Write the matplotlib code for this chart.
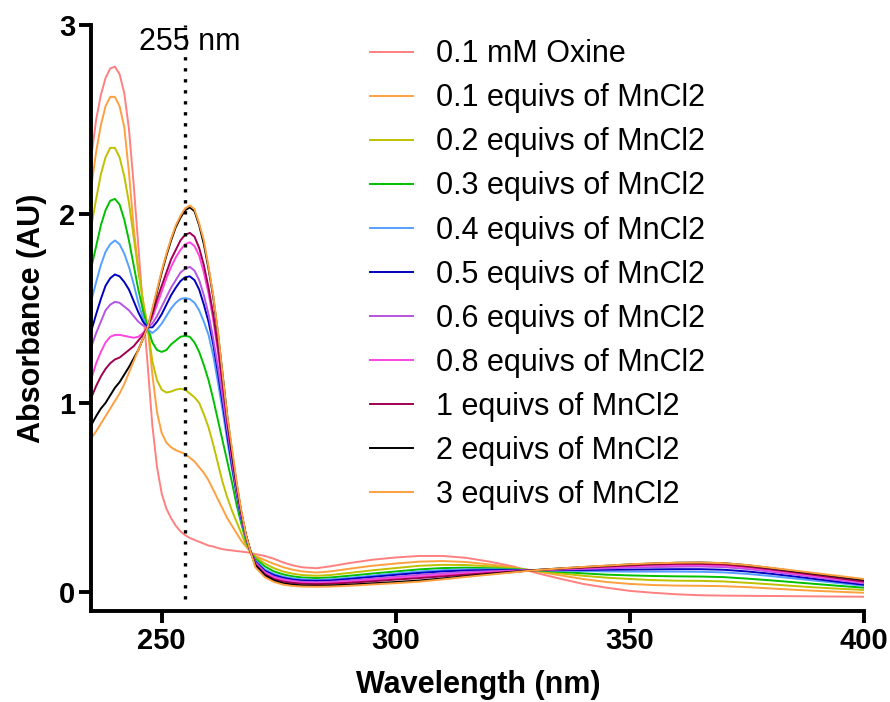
import matplotlib

matplotlib.use("Agg")
import matplotlib.pyplot as plt

plt.rcParams["font.family"] = ["Liberation Sans", "DejaVu Sans"]

# wavelength grid (nm): 1 nm steps through the band region, coarser in the tail
WL = list(range(235, 270)) + [270, 272, 274, 276, 278, 280, 283, 286, 290, 295, 300, 305, 310,
                              315, 320, 325, 330, 335, 340, 345, 350, 355, 360, 365, 370, 375,
                              380, 385, 390, 395, 400]

LABELS = ["0.1 mM Oxine", "0.1 equivs of MnCl2", "0.2 equivs of MnCl2", "0.3 equivs of MnCl2",
          "0.4 equivs of MnCl2", "0.5 equivs of MnCl2", "0.6 equivs of MnCl2",
          "0.8 equivs of MnCl2", "1 equivs of MnCl2", "2 equivs of MnCl2", "3 equivs of MnCl2"]
COLORS = ["#FF8080", "#FFA040", "#C0C000", "#00C000", "#55A0FF", "#0000C0", "#B555E0",
          "#FF45E0", "#A00050", "#000000", "#FFA040"]

# absorbance (AU), one list per titration point
oxine = [2.31, 2.50, 2.63, 2.72, 2.77, 2.78, 2.74, 2.64, 2.45, 2.16, 1.83, 1.50, 1.20, 0.88, 0.66,
         0.52, 0.44, 0.39, 0.35, 0.32, 0.30, 0.285, 0.275, 0.265, 0.255, 0.245, 0.24, 0.232, 0.226,
         0.222, 0.219, 0.216, 0.213, 0.21, 0.206,
         0.200, 0.190, 0.175, 0.155, 0.140, 0.130, 0.125, 0.135, 0.152, 0.170, 0.182, 0.190, 0.190,
         0.180, 0.160, 0.135, 0.100, 0.070, 0.042, 0.022, 0.005, -0.005, -0.013, -0.018, -0.020,
         -0.021, -0.022, -0.023, -0.024, -0.025, -0.026]
mn_01 = [2.15, 2.33, 2.47, 2.57, 2.62, 2.62, 2.57, 2.46, 2.22, 1.93, 1.71, 1.54, 1.40, 1.15, 0.95,
         0.84, 0.79, 0.765, 0.75, 0.74, 0.73, 0.71, 0.69, 0.66, 0.63, 0.59, 0.54, 0.49, 0.44, 0.39,
         0.35, 0.31, 0.27, 0.24, 0.21,
         0.19, 0.168, 0.148, 0.13, 0.117, 0.108, 0.102, 0.108, 0.122, 0.138, 0.150, 0.160, 0.163,
         0.158, 0.145, 0.130, 0.108, 0.088, 0.068, 0.052, 0.042, 0.036, 0.033, 0.032, 0.030, 0.025,
         0.018, 0.011, 0.005, 0.000, -0.005]
mn_02 = [1.94, 2.08, 2.21, 2.30, 2.35, 2.35, 2.30, 2.20, 2.06, 1.88, 1.70, 1.54, 1.40, 1.22, 1.12,
         1.07, 1.055, 1.06, 1.07, 1.075, 1.07, 1.05, 1.03, 1.00, 0.94, 0.87, 0.78, 0.68, 0.58, 0.50,
         0.43, 0.37, 0.31, 0.25, 0.21,
         0.185, 0.150, 0.125, 0.107, 0.096, 0.089, 0.085, 0.089, 0.100, 0.114, 0.126, 0.138, 0.143,
         0.142, 0.135, 0.125, 0.112, 0.098, 0.085, 0.075, 0.068, 0.062, 0.059, 0.058, 0.055, 0.048,
         0.040, 0.031, 0.023, 0.016, 0.010]
mn_03 = [1.72, 1.83, 1.94, 2.02, 2.07, 2.08, 2.05, 1.97, 1.86, 1.73, 1.60, 1.49, 1.40, 1.32, 1.28,
         1.27, 1.28, 1.31, 1.33, 1.35, 1.355, 1.35, 1.32, 1.27, 1.20, 1.12, 1.02, 0.91, 0.80, 0.69,
         0.58, 0.46, 0.36, 0.27, 0.21,
         0.175, 0.135, 0.108, 0.092, 0.082, 0.076, 0.073, 0.076, 0.085, 0.097, 0.108, 0.119, 0.126,
         0.128, 0.125, 0.120, 0.114, 0.106, 0.098, 0.091, 0.087, 0.084, 0.082, 0.081, 0.078, 0.070,
         0.061, 0.051, 0.041, 0.031, 0.022]
mn_04 = [1.545, 1.64, 1.73, 1.80, 1.84, 1.86, 1.84, 1.79, 1.72, 1.63, 1.53, 1.45, 1.39, 1.37, 1.39,
         1.42, 1.46, 1.50, 1.53, 1.55, 1.555, 1.55, 1.53, 1.49, 1.43, 1.36, 1.25, 1.11, 0.96, 0.80,
         0.65, 0.51, 0.38, 0.28, 0.21,
         0.165, 0.120, 0.095, 0.080, 0.071, 0.066, 0.063, 0.066, 0.074, 0.086, 0.097, 0.108, 0.115,
         0.119, 0.119, 0.117, 0.115, 0.112, 0.110, 0.108, 0.107, 0.107, 0.107, 0.106, 0.103, 0.095,
         0.084, 0.071, 0.058, 0.045, 0.032]
mn_05 = [1.385, 1.47, 1.55, 1.62, 1.66, 1.68, 1.67, 1.64, 1.60, 1.54, 1.48, 1.43, 1.40, 1.40, 1.43,
         1.47, 1.52, 1.57, 1.61, 1.645, 1.665, 1.67, 1.65, 1.60, 1.52, 1.43, 1.31, 1.16, 1.00, 0.83,
         0.67, 0.52, 0.39, 0.29, 0.21,
         0.160, 0.112, 0.088, 0.074, 0.065, 0.060, 0.058, 0.060, 0.068, 0.079, 0.090, 0.100, 0.108,
         0.113, 0.115, 0.115, 0.115, 0.115, 0.116, 0.117, 0.118, 0.119, 0.120, 0.120, 0.117, 0.108,
         0.096, 0.082, 0.067, 0.052, 0.038]
mn_06 = [1.30, 1.37, 1.43, 1.49, 1.52, 1.535, 1.53, 1.51, 1.49, 1.46, 1.43, 1.41, 1.40, 1.42, 1.46,
         1.51, 1.56, 1.61, 1.65, 1.69, 1.71, 1.72, 1.70, 1.65, 1.57, 1.47, 1.34, 1.19, 1.03, 0.86,
         0.69, 0.53, 0.40, 0.29, 0.21,
         0.155, 0.105, 0.080, 0.067, 0.058, 0.053, 0.051, 0.053, 0.060, 0.070, 0.080, 0.090, 0.098,
         0.105, 0.109, 0.112, 0.115, 0.118, 0.121, 0.124, 0.128, 0.131, 0.133, 0.134, 0.131, 0.121,
         0.107, 0.092, 0.076, 0.060, 0.045]
mn_08 = [1.13, 1.21, 1.27, 1.32, 1.35, 1.36, 1.36, 1.355, 1.35, 1.345, 1.35, 1.37, 1.40, 1.45, 1.52,
         1.59, 1.66, 1.72, 1.77, 1.81, 1.84, 1.85, 1.83, 1.78, 1.69, 1.58, 1.44, 1.27, 1.08, 0.89,
         0.71, 0.55, 0.41, 0.30, 0.21,
         0.150, 0.100, 0.074, 0.061, 0.053, 0.048, 0.046, 0.048, 0.054, 0.063, 0.073, 0.081, 0.090,
         0.098, 0.104, 0.110, 0.115, 0.120, 0.125, 0.130, 0.135, 0.139, 0.141, 0.141, 0.138, 0.128,
         0.114, 0.098, 0.082, 0.066, 0.050]
mn_1 = [1.03, 1.09, 1.14, 1.18, 1.21, 1.23, 1.24, 1.26, 1.28, 1.30, 1.33, 1.36, 1.40, 1.47, 1.55,
        1.62, 1.69, 1.76, 1.81, 1.86, 1.89, 1.90, 1.88, 1.82, 1.73, 1.61, 1.47, 1.30, 1.10, 0.90,
        0.72, 0.56, 0.42, 0.30, 0.21,
        0.145, 0.094, 0.067, 0.054, 0.047, 0.043, 0.041, 0.043, 0.048, 0.056, 0.065, 0.073, 0.082,
        0.091, 0.099, 0.107, 0.115, 0.122, 0.128, 0.134, 0.140, 0.145, 0.148, 0.148, 0.145, 0.134,
        0.120, 0.104, 0.088, 0.071, 0.055]
mn_2 = [0.885, 0.93, 0.97, 1.00, 1.04, 1.08, 1.11, 1.15, 1.19, 1.235, 1.28, 1.34, 1.40, 1.49, 1.59,
        1.69, 1.78, 1.86, 1.93, 1.98, 2.02, 2.035, 2.015, 1.94, 1.84, 1.71, 1.56, 1.37, 1.15, 0.93,
        0.74, 0.57, 0.42, 0.30, 0.21,
        0.140, 0.088, 0.060, 0.045, 0.038, 0.034, 0.032, 0.034, 0.038, 0.045, 0.052, 0.060, 0.071,
        0.083, 0.095, 0.105, 0.116, 0.124, 0.131, 0.138, 0.145, 0.150, 0.154, 0.155, 0.152, 0.141,
        0.126, 0.110, 0.095, 0.079, 0.063]
mn_3 = [0.815, 0.85, 0.89, 0.93, 0.97, 1.01, 1.05, 1.10, 1.16, 1.22, 1.28, 1.34, 1.40, 1.50, 1.60,
        1.70, 1.79, 1.87, 1.94, 1.99, 2.03, 2.045, 2.025, 1.95, 1.86, 1.72, 1.57, 1.38, 1.15, 0.93,
        0.76, 0.58, 0.43, 0.30, 0.21,
        0.130, 0.078, 0.052, 0.038, 0.031, 0.028, 0.027, 0.028, 0.032, 0.039, 0.046, 0.054, 0.066,
        0.079, 0.091, 0.103, 0.115, 0.124, 0.132, 0.139, 0.146, 0.151, 0.154, 0.155, 0.152, 0.142,
        0.128, 0.113, 0.098, 0.083, 0.068]

SPECTRA = [oxine, mn_01, mn_02, mn_03, mn_04, mn_05, mn_06, mn_08, mn_1, mn_2, mn_3]
MARK_NM = 255

fig = plt.figure(figsize=(8.9, 7.02), dpi=100)
ax = fig.add_axes([0.1028, 0.130, 0.868, 0.8343])

for spec, lab, col in zip(SPECTRA, LABELS, COLORS):
    ax.plot(WL, spec, color=col, lw=1.4, label=lab)

# dotted marker at the 255 nm band
ax.plot([MARK_NM, MARK_NM], [-0.04, 3.0], color="black", lw=2.4, ls=(0, (1, 2.3)))
ax.text(MARK_NM + 1, 2.91, f"{MARK_NM} nm", ha="center", va="center", fontsize=22)

ax.set_xlim(235, 400)
ax.set_ylim(-0.1, 3.0)
ax.set_xticks([250, 300, 350, 400])
ax.set_yticks([0, 1, 2, 3])
for side in ("top", "right"):
    ax.spines[side].set_visible(False)
for side in ("left", "bottom"):
    ax.spines[side].set_linewidth(2.8)
ax.tick_params(width=2.8, length=8.5, labelsize=21, pad=3)
for t in ax.get_xticklabels() + ax.get_yticklabels():
    t.set_fontweight("bold")

ax.set_xlabel("Wavelength (nm)", fontsize=22, fontweight="bold", labelpad=11)
ax.set_ylabel("Absorbance (AU)", fontsize=22, fontweight="bold", labelpad=9)

fig.legend(loc="upper left", bbox_to_anchor=(0.4157, 0.944), frameon=False, fontsize=22,
           handlelength=1.4, handletextpad=0.75, labelspacing=0.46, borderpad=0, borderaxespad=0)

fig.savefig("out.png", dpi=100)
